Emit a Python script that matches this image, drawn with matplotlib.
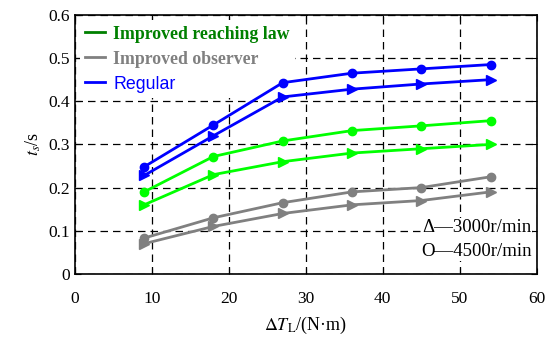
import numpy as np
import matplotlib
matplotlib.use("Agg")
import matplotlib.pyplot as plt

plt.rcParams['font.family'] = ['Liberation Serif', 'DejaVu Serif']
plt.rcParams['mathtext.fontset'] = 'stix'

# load torque step, N·m
dT = [9, 18, 27, 36, 45, 54]

# settling time, s  (circle = 4500 r/min, triangle = 3000 r/min)
reg_4500 = [0.248, 0.345, 0.443, 0.465, 0.475, 0.485]
reg_3000 = [0.228, 0.320, 0.410, 0.428, 0.440, 0.450]
law_4500 = [0.190, 0.272, 0.308, 0.332, 0.343, 0.355]
law_3000 = [0.160, 0.230, 0.260, 0.280, 0.290, 0.300]
obs_4500 = [0.083, 0.130, 0.165, 0.190, 0.200, 0.225]
obs_3000 = [0.070, 0.110, 0.140, 0.160, 0.170, 0.190]

blue = (0, 0, 1)
green = (0, 1, 0)
dgreen = (0, 0.5, 0)
gray = (0.5, 0.5, 0.5)

fig = plt.figure(figsize=(5.5, 3.39), dpi=100)
ax = fig.add_axes([0.136, 0.192, 0.84, 0.764])

lw = 2
ax.plot(dT, reg_4500, color=blue, lw=lw, marker='o', ms=6)
ax.plot(dT, reg_3000, color=blue, lw=lw, marker='>', ms=6.5)
ax.plot(dT, law_4500, color=green, lw=lw, marker='o', ms=6)
ax.plot(dT, law_3000, color=green, lw=lw, marker='>', ms=6.5)
ax.plot(dT, obs_4500, color=gray, lw=lw, marker='o', ms=6)
ax.plot(dT, obs_3000, color=gray, lw=lw, marker='>', ms=6.5)

# legend handles
h1, = ax.plot([], [], color=dgreen, lw=2)
h2, = ax.plot([], [], color=gray, lw=2)
h3, = ax.plot([], [], color=blue, lw=2)
leg = ax.legend([h1, h2, h3], ["Improved reaching law", "Improved observer", "Regular"],
                loc='upper left', frameon=True, fancybox=False, framealpha=1,
                facecolor='white', edgecolor='none', handlelength=1.1, handletextpad=0.45,
                labelspacing=0.45, borderpad=0.3, borderaxespad=0.3,
                prop={'weight': 'bold', 'size': 12.8})
leg.set_zorder(1)
txts = leg.get_texts()
txts[0].set_color(dgreen)
txts[1].set_color(gray)
txts[2].set_color(blue)
txts[2].set_family('Liberation Sans')
txts[2].set_weight('normal')

ax.text(59.3, 0.107, "Δ—3000r/min", ha='right', va='center', fontsize=13.5,
        bbox=dict(facecolor='white', edgecolor='none', pad=0.5))
ax.text(59.3, 0.052, "O—4500r/min", ha='right', va='center', fontsize=13.5,
        bbox=dict(facecolor='white', edgecolor='none', pad=0.5))

ax.set_xlim(0, 60)
ax.set_ylim(0, 0.6)
ax.set_xticks(np.arange(0, 61, 10))
ax.set_yticks(np.arange(0, 0.61, 0.1))
ax.set_yticklabels(['0', '0.1', '0.2', '0.3', '0.4', '0.5', '0.6'])
ax.grid(True, color='black', ls=(0, (6, 4)), lw=0.9)
ax.set_axisbelow(True)
ax.tick_params(labelsize=12.5, direction='in', length=4, top=True, right=True)
ax.tick_params(axis='x', pad=12)
for s in ax.spines.values():
    s.set_linewidth(1.2)

ax.set_xlabel(r"$\Delta T_{\rm L}$/(N·m)", fontsize=13, labelpad=6)
ax.set_ylabel(r"$t_s$/s", fontsize=13, labelpad=4)

fig.savefig("out.png", dpi=100)
